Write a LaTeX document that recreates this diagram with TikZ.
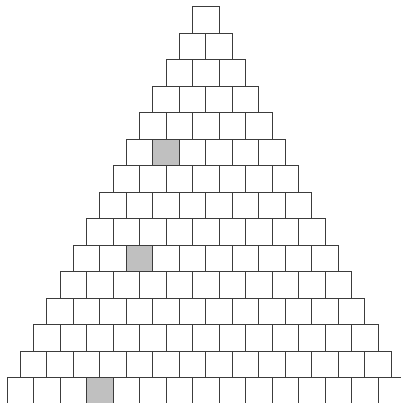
\documentclass[tikz,border=0pt]{standalone}
\usepackage{tikz}
\definecolor{CellGray}{RGB}{192,192,192}
\definecolor{CellLine}{RGB}{60,60,60}

\begin{document}
\begin{tikzpicture}[x=0.7cm,y=0.7cm,
  cell/.style={rectangle,draw=CellLine,line width=0.75pt,minimum size=0.7cm,inner sep=0pt,outer sep=0pt}]
  \useasboundingbox (0,0) rectangle (15.132,-15.208);
  \clip (0,0) rectangle (15.132,-15.208);
  \foreach \r in {0,...,14} {
    \foreach \i in {0,...,\r} {
      \pgfmathtruncatemacro\hit{((\r==5)&&(\i==1))||((\r==9)&&(\i==2))||((\r==14)&&(\i==3))}
      \ifnum\hit=1 \def\cellcol{CellGray}\else\def\cellcol{white}\fi
      \node[cell,fill=\cellcol] (c\r-\i) at ({7.766-(\r+1)/2+\i+0.5},{-0.753-\r}) {};
    }
  }
\end{tikzpicture}
\end{document}
